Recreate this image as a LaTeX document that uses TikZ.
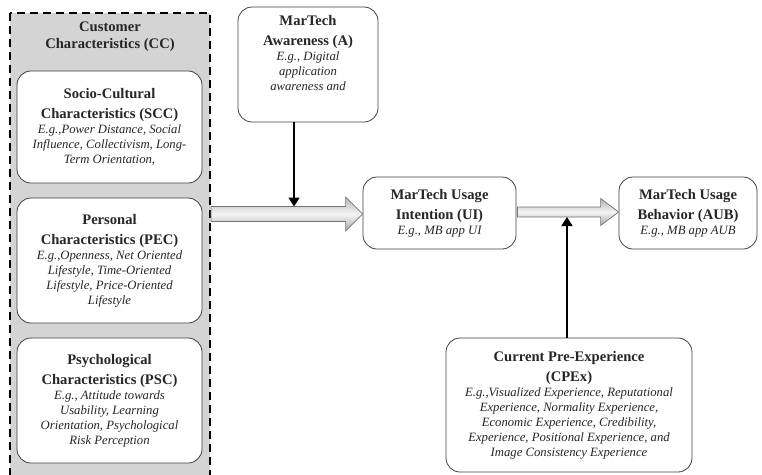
\documentclass[tikz,border=0pt]{standalone}
\usepackage{fontspec}
\setmainfont{Liberation Serif}
\usetikzlibrary{arrows.meta,calc}
\newcommand\bt[1]{{\fontsize{14.6}{15}\selectfont\bfseries\upshape #1}}
\tikzset{
  box/.style={draw=black!75, line width=0.8pt, rounded corners=14pt, fill=white,
    align=center, inner sep=2pt, font=\fontsize{12.7}{15}\selectfont\itshape, text=black!85},
  grayarrow/.style={draw=black!55, line width=0.7pt, top color=gray!60, bottom color=gray!70, middle color=white!92!gray},
  blackarrow/.style={draw=black, line width=1.6pt, -{Triangle[length=9pt,width=11pt]}},
}
\begin{document}
\begin{tikzpicture}[x=1pt,y=-1pt]
\useasboundingbox (0,0) rectangle (762,474);
\begin{scope}
\clip (0,0) rectangle (762,474);
\draw[fill=black!17, draw=black, line width=1.6pt, dash pattern=on 8pt off 5pt] (10,13) rectangle (210,490);
\end{scope}
\node[align=center, text=black!85] (CC) at (110,37) {\bt{Customer}\\[5pt]\bt{Characteristics (CC)}};

\node[box, minimum width=185pt, minimum height=112pt] (SCC) at (109.5,127)
  {\bt{Socio-Cultural}\\[5pt]\bt{Characteristics (SCC)}\\E.g.,Power Distance, Social\\Influence, Collectivism, Long-\\Term Orientation,};
\node[box, minimum width=185pt, minimum height=125pt] (PEC) at (109.5,260.5)
  {\bt{Personal}\\[5pt]\bt{Characteristics (PEC)}\\E.g.,Openness, Net Oriented\\Lifestyle, Time-Oriented\\Lifestyle, Price-Oriented\\Lifestyle};
\node[box, minimum width=185pt, minimum height=125pt] (PSC) at (109.5,400.5)
  {\bt{Psychological}\\[5pt]\bt{Characteristics (PSC)}\\E.g., Attitude towards\\Usability, Learning\\Orientation, Psychological\\Risk Perception};

\node[box, minimum width=140pt, minimum height=115pt] (A) at (308,64.5)
  {\bt{MarTech}\\[5pt]\bt{Awareness (A)}\\E.g., Digital\\application\\awareness and\\[8pt]};
\node[box, minimum width=153pt, minimum height=72pt] (UI) at (439.5,213)
  {\bt{MarTech Usage}\\[5pt]\bt{Intention (UI)}\\E.g., MB app UI};
\node[box, minimum width=138pt, minimum height=72pt] (AUB) at (688,213)
  {\bt{MarTech Usage}\\[5pt]\bt{Behavior (AUB)}\\E.g., MB app AUB};
\node[box, minimum width=246pt, minimum height=134pt] (CPEx) at (569,405)
  {\bt{Current Pre-Experience}\\[5pt]\bt{(CPEx)}\\E.g.,Visualized Experience, Reputational\\Experience, Normality Experience,\\Economic Experience, Credibility,\\Experience, Positional Experience, and\\Image Consistency Experience};

% gray arrow 1: CC -> UI
\coordinate (g1s) at (211,214);
\coordinate (g1e) at (UI.west |- g1s);
\path[grayarrow] ($(g1s)+(0,-7.5)$) -- ($(g1e)+(-17,-7.5)$) -- ($(g1e)+(-17,-17)$) -- (g1e)
  -- ($(g1e)+(-17,17)$) -- ($(g1e)+(-17,7.5)$) -- ($(g1s)+(0,7.5)$) -- cycle;
% gray arrow 2: UI -> AUB
\coordinate (g2s) at (UI.east |- 0,212);
\coordinate (g2e) at (AUB.west |- g2s);
\path[grayarrow] ($(g2s)+(1,-5)$) -- ($(g2e)+(-18,-5)$) -- ($(g2e)+(-18,-13.5)$) -- (g2e)
  -- ($(g2e)+(-18,13.5)$) -- ($(g2e)+(-18,5)$) -- ($(g2s)+(1,5)$) -- cycle;

% black arrows
\coordinate (a1) at ($(A.south)+(-14,0)$);
\coordinate (t1) at (a1 |- 0,206.5);
\draw[blackarrow] (a1) -- (t1);
\coordinate (a2) at ($(CPEx.north)+(-2,0)$);
\coordinate (t2) at (a2 |- 0,217);
\draw[blackarrow] (a2) -- (t2);
\end{tikzpicture}
\end{document}
